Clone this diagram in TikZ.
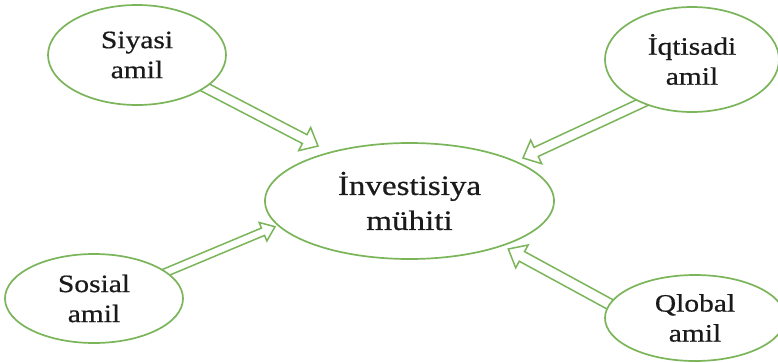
\documentclass[tikz,border=0pt]{standalone}
\usepackage{fontspec}
\setmainfont[FakeStretch=1.18,FakeBold=0.6]{Liberation Serif}
\usetikzlibrary{shapes.geometric,calc,backgrounds}
\definecolor{lgreen}{HTML}{7AB55A}
\definecolor{txt}{HTML}{1A1A1A}
\tikzset{
  factor/.style={ellipse,draw=lgreen,line width=1.7pt,fill=white,text=txt,align=center,inner sep=0pt,
     font=\fontsize{25}{30}\selectfont},
  central/.style={factor,font=\fontsize{28}{35}\selectfont},
  arrowline/.style={draw=lgreen,line width=1.5pt,line join=miter}
}
\newcommand\hollowarrow[5]{%
  \coordinate (hb) at ($(#2)!#5!(#1)$);
  \draw[arrowline] ($(#1)!#3!90:(#2)$) -- ($(hb)!#3!-90:(#1)$) -- ($(hb)!#4!-90:(#1)$) -- (#2)
     -- ($(hb)!#4!90:(#1)$) -- ($(hb)!#3!90:(#1)$) -- ($(#1)!#3!-90:(#2)$);
}
\begin{document}
\begin{tikzpicture}[x=1pt,y=-1pt]
\useasboundingbox (0,0) rectangle (778,362);
\node[factor,minimum width=178pt,minimum height=100pt] (siy) at (137,55) {Siyasi\\amil};
\node[factor,minimum width=174pt,minimum height=105pt] (iqt) at (692,59.5) {İqtisadi\\amil};
\node[factor,minimum width=178pt,minimum height=89pt] (sos) at (94,298.5) {Sosial\\amil};
\node[factor,minimum width=180pt,minimum height=86pt] (qlo) at (695,318) {Qlobal\\amil};
\node[central,minimum width=289pt,minimum height=116pt] (inv) at (409.5,201) {İnvestisiya\\mühiti};
\coordinate (siyT) at (187,78);   \coordinate (siyH) at (318,146);
\coordinate (iqtT) at (657,95.7); \coordinate (iqtH) at (523,158);
\coordinate (sosT) at (153.6,277.5); \coordinate (sosH) at (275,226.7);
\coordinate (qloT) at (624,312);  \coordinate (qloH) at (508.3,249);
\begin{pgfonlayer}{background}
\fill[white] (0,0) rectangle (778,362);
\hollowarrow{siyT}{siyH}{5pt}{13pt}{15pt}
\hollowarrow{iqtT}{iqtH}{5pt}{13pt}{14.5pt}
\hollowarrow{sosT}{sosH}{4pt}{10pt}{13pt}
\hollowarrow{qloT}{qloH}{5.5pt}{13pt}{15.5pt}
\end{pgfonlayer}
\end{tikzpicture}
\end{document}
